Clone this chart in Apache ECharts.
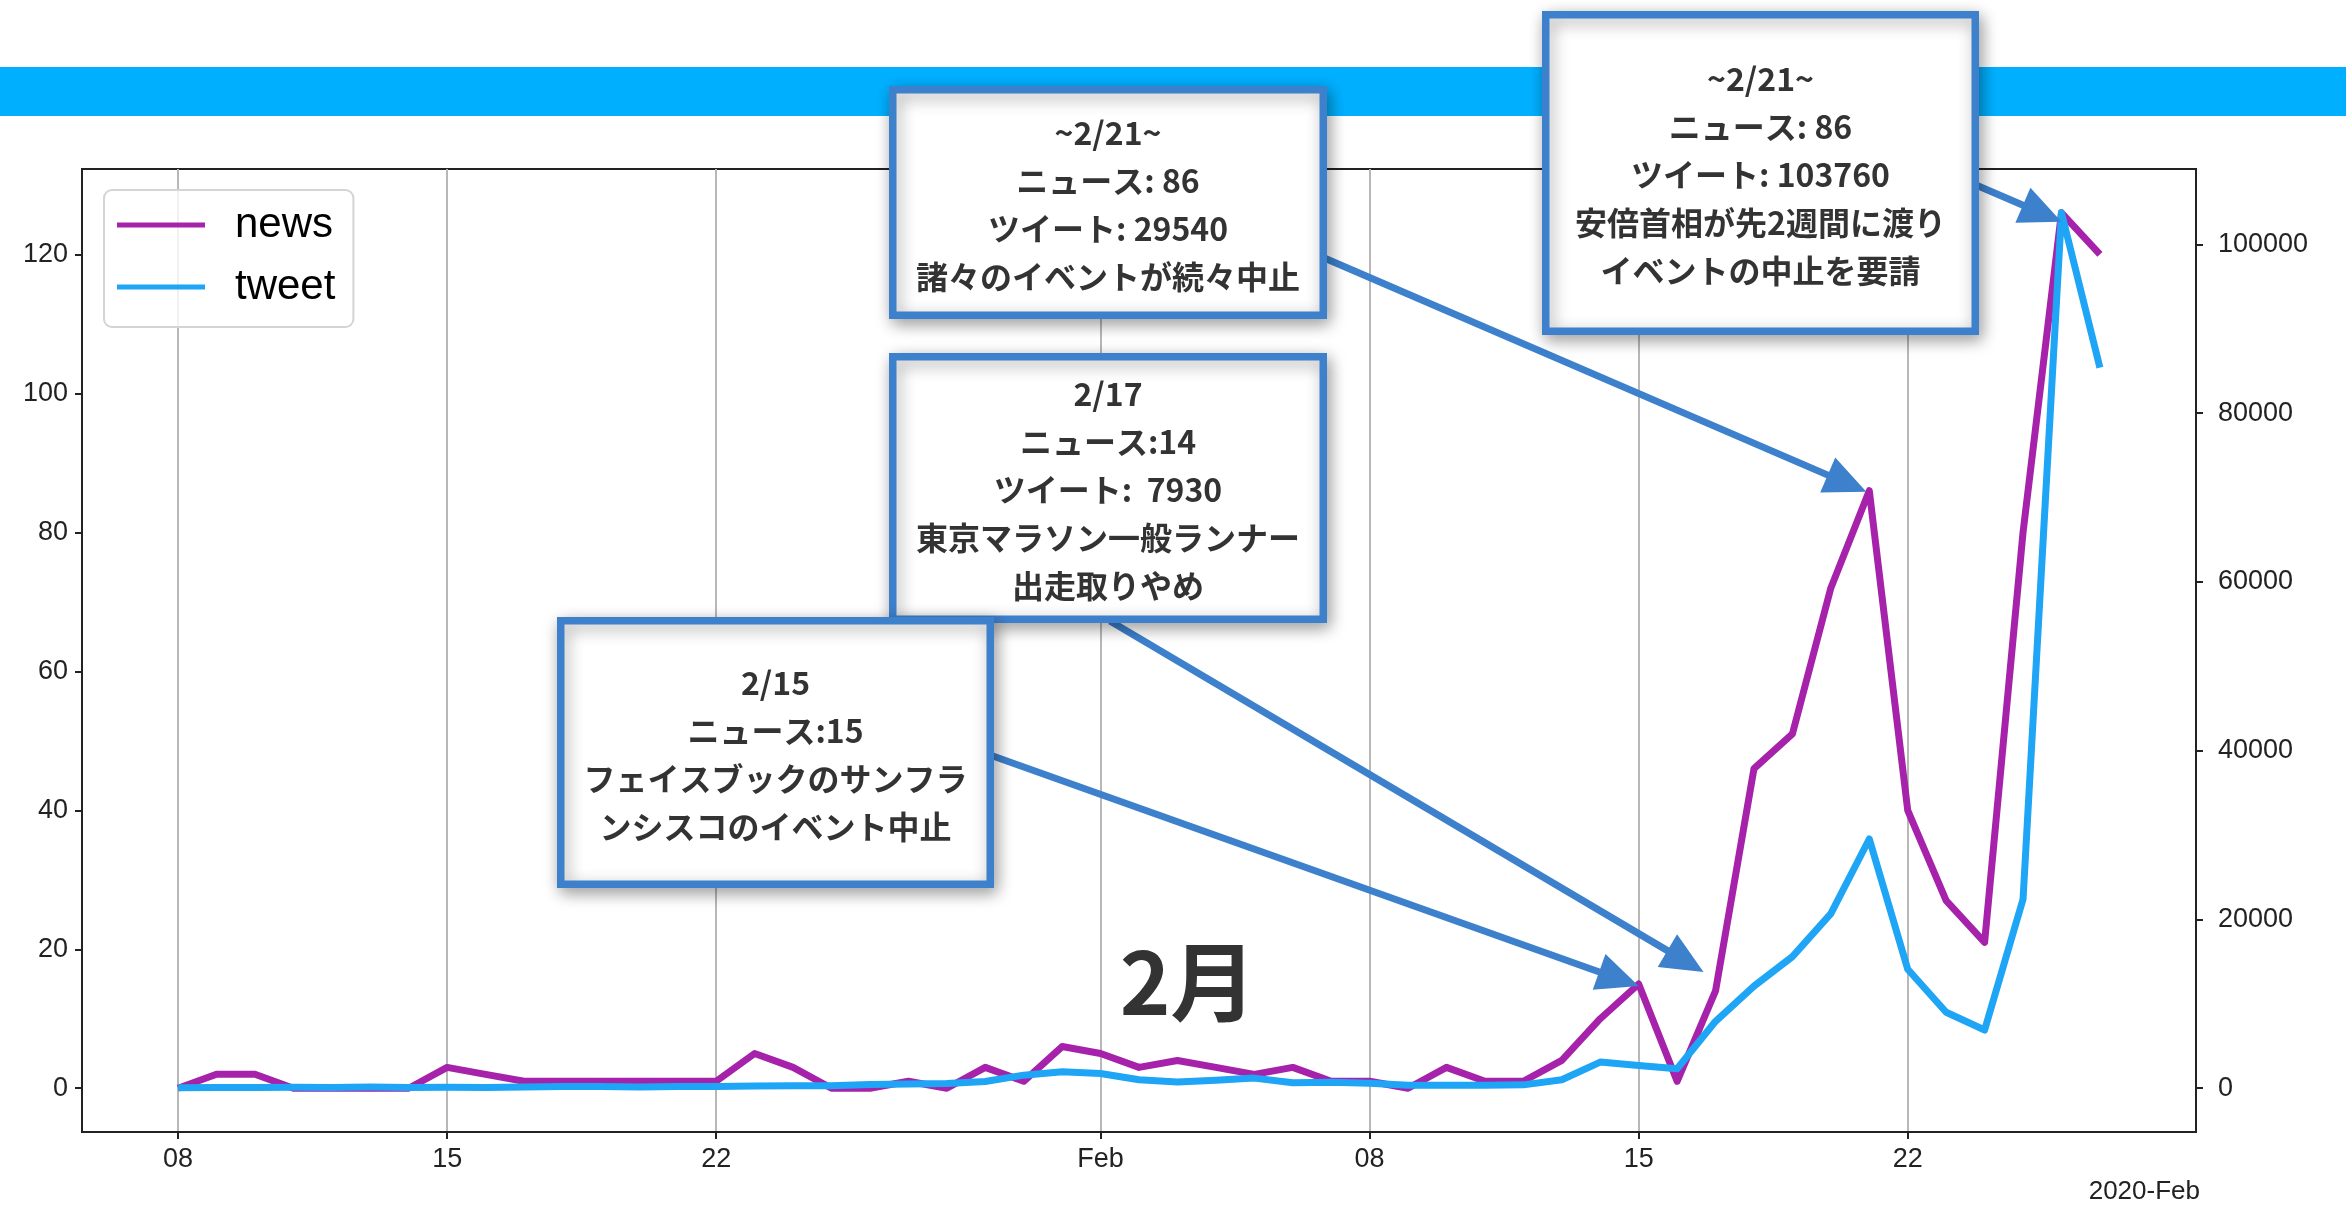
<!DOCTYPE html>
<html><head><meta charset="utf-8">
<script src="https://cdn.jsdelivr.net/npm/echarts@6/dist/echarts.min.js"></script>
<style>html,body{margin:0;padding:0;background:#fff}#c{width:2346px;height:1205px}</style>
</head><body><div id="c"></div>
<script>
// ---------------- data ----------------
const dates = [
  '2020-01-08','2020-01-09','2020-01-10','2020-01-11','2020-01-12','2020-01-13','2020-01-14',
  '2020-01-15','2020-01-16','2020-01-17','2020-01-18','2020-01-19','2020-01-20','2020-01-21',
  '2020-01-22','2020-01-23','2020-01-24','2020-01-25','2020-01-26','2020-01-27','2020-01-28',
  '2020-01-29','2020-01-30','2020-01-31','2020-02-01','2020-02-02','2020-02-03','2020-02-04',
  '2020-02-05','2020-02-06','2020-02-07','2020-02-08','2020-02-09','2020-02-10','2020-02-11',
  '2020-02-12','2020-02-13','2020-02-14','2020-02-15','2020-02-16','2020-02-17','2020-02-18',
  '2020-02-19','2020-02-20','2020-02-21','2020-02-22','2020-02-23','2020-02-24','2020-02-25',
  '2020-02-26','2020-02-27'
];
const news = [
  0,2,2,0,0,0,0,
  3,2,1,1,1,1,1,
  1,5,3,0,0,1,0,
  3,1,6,5,3,4,3,
  2,3,1,1,0,3,1,
  1,4,10,15,1,14,46,
  51,72,86,40,27,21,80,
  126,120
];
const tweet = [
  50,80,100,120,100,150,100,
  120,100,150,200,200,150,200,
  200,250,300,300,450,500,550,
  800,1550,1950,1750,1000,750,950,
  1200,650,700,600,350,350,350,
  400,1000,3100,2700,2300,7930,12100,
  15600,20700,29540,14100,9000,6900,22400,
  103760,85400
];
const xTickDates  = ['2020-01-08','2020-01-15','2020-01-22','2020-02-01','2020-02-08','2020-02-15','2020-02-22'];
const xTickLabels = ['08','15','22','Feb','08','15','22'];
const newsTicks  = [0,20,40,60,80,100,120];
const tweetTicks = [0,20000,40000,60000,80000,100000];
const seriesNames = ['news','tweet'];

// annotation texts and the data points they point at
const noteTexts = [
  ['~2/21~','ニュース: 86','ツイート: 29540','諸々のイベントが続々中止'],
  ['~2/21~','ニュース: 86','ツイート: 103760','安倍首相が先2週間に渡り','イベントの中止を要請'],
  ['2/17','ニュース:14','ツイート:  7930','東京マラソン一般ランナー','出走取りやめ'],
  ['2/15','ニュース:15','フェイスブックのサンフラ','ンシスコのイベント中止']
];
const noteTargets = [
  {date:'2020-02-21', axis:0, value:86},
  {date:'2020-02-26', axis:1, value:103760},
  {date:'2020-02-17', axis:0, value:14},
  {date:'2020-02-15', axis:0, value:15}
];

// ---------------- layout (pixels) ----------------
const boxes = [ // outer rect x0,y0,x1,y1
  [889, 86, 1327, 319],
  [1542, 11, 1979, 335],
  [889, 353, 1327, 623],
  [557, 617, 994, 888]
];
const arrowStarts = [[1322,257],[1976,185],[1110,621],[990,755]];
const arrowTipOffsets = [[-3,1],[0,9],[-12,-19],[0,2]];

const DAY = 86400000;
function dayIndex(s){ const p=s.split('-').map(Number); return (Date.UTC(p[0],p[1]-1,p[2])-Date.UTC(2020,0,8))/DAY; }

const tickX = xTickDates.map(dayIndex);
const labelMap = {}; tickX.forEach((v,i)=>labelMap[v]=xTickLabels[i]);

const newsData  = dates.map((d,i)=>[dayIndex(d), news[i]]);
const tweetData = dates.map((d,i)=>[dayIndex(d), tweet[i]]);

const newsMax = Math.max(...news), tweetMax = Math.max(...tweet);
const xMin = dayIndex(dates[0]), xMax = dayIndex(dates[dates.length-1]);
const xPad = (xMax-xMin)*0.05;

const TICKFONT = {fontFamily:'Liberation Sans', fontSize:27, color:'#222'};
const AXCOL = '#222';
const BLUE = '#3d80cc';

const chart = echarts.init(document.getElementById('c'), null, {renderer:'canvas'});
const option = {
  animation:false,
  backgroundColor:'#fff',
  grid:{left:82, right:150, top:169, bottom:73, show:true, borderColor:AXCOL, borderWidth:2, backgroundColor:'transparent'},
  legend:{
    show:true, orient:'vertical', left:104, top:190,
    padding:[13,18,18,13], itemGap:18,
    backgroundColor:'rgba(255,255,255,0.8)', borderColor:'#d4d4d4', borderWidth:2, borderRadius:8,
    icon:'rect', itemWidth:88, itemHeight:5,
    textStyle:{fontFamily:'Liberation Sans', fontSize:42, lineHeight:44, color:'#000', padding:[0,0,0,25]},
    data: seriesNames
  },
  xAxis:{
    type:'value', min:xMin-xPad, max:xMax+xPad,
    axisLine:{show:true, onZero:false, lineStyle:{color:AXCOL, width:2}},
    axisTick:{show:true, length:7, lineStyle:{color:AXCOL, width:2}, customValues:tickX},
    axisLabel:{show:true, margin:14, ...TICKFONT, customValues:tickX, formatter:v=>labelMap[v]!==undefined?labelMap[v]:''},
    splitLine:{show:true, lineStyle:{color:'#b8b8b8', width:2}}
  },
  yAxis:[
    {type:'value', position:'left', min:-newsMax*0.05, max:newsMax*1.05,
     axisLine:{show:true, onZero:false, lineStyle:{color:AXCOL, width:2}},
     axisTick:{show:true, length:7, lineStyle:{color:AXCOL, width:2}, customValues:newsTicks},
     axisLabel:{show:true, margin:14, ...TICKFONT, customValues:newsTicks, formatter:v=>String(v)},
     splitLine:{show:false}},
    {type:'value', position:'right', min:-tweetMax*0.05, max:tweetMax*1.05,
     axisLine:{show:true, onZero:false, lineStyle:{color:AXCOL, width:2}},
     axisTick:{show:true, length:7, lineStyle:{color:AXCOL, width:2}, customValues:tweetTicks},
     axisLabel:{show:true, margin:22, ...TICKFONT, customValues:tweetTicks, formatter:v=>String(v)},
     splitLine:{show:false}}
  ],
  series:[
    {name:seriesNames[0], type:'line', yAxisIndex:0, data:newsData, showSymbol:false, symbol:'none',
     itemStyle:{color:'#a622aa'}, lineStyle:{color:'#a622aa', width:7, join:'round'}, z:2},
    {name:seriesNames[1], type:'line', yAxisIndex:1, data:tweetData, showSymbol:false, symbol:'none',
     itemStyle:{color:'#1ea5f5'}, lineStyle:{color:'#1ea5f5', width:7, join:'round'}, z:3}
  ]
};
chart.setOption(option);

// ---------------- annotations ----------------
function arrowEls(x1,y1,x2,y2){
  const dx=x2-x1, dy=y2-y1, L=Math.hypot(dx,dy), ux=dx/L, uy=dy/L;
  const hl=42, hw=19;
  const bx=x2-ux*hl, by=y2-uy*hl;
  return [
    {type:'line', z:100, shape:{x1:x1,y1:y1,x2:bx+ux*4,y2:by+uy*4}, style:{stroke:BLUE, lineWidth:7}},
    {type:'polygon', z:100, shape:{points:[[x2,y2],[bx-uy*hw,by+ux*hw],[bx+uy*hw,by-ux*hw]]}, style:{fill:BLUE}}
  ];
}
const els = [];
els.push({type:'rect', z:0, shape:{x:0,y:67,width:2346,height:49}, style:{fill:'#00b0ff'}});
els.push({type:'text', z:50, style:{text:'2月', x:1188, y:982, align:'center', verticalAlign:'middle',
  font:'bold 86px "Noto Sans CJK JP", sans-serif', fill:'#333'}});
els.push({type:'text', z:50, style:{text:'2020-Feb', x:2200, y:1192, align:'right', verticalAlign:'middle',
  font:'26px "Liberation Sans", sans-serif', fill:'#222'}});
noteTargets.forEach((t,i)=>{
  const p = chart.convertToPixel({xAxisIndex:0, yAxisIndex:t.axis}, [dayIndex(t.date), t.value]);
  const s = arrowStarts[i], o = arrowTipOffsets[i];
  arrowEls(s[0], s[1], p[0]+o[0], p[1]+o[1]).forEach(e=>els.push(e));
});
boxes.forEach((b,i)=>{
  const w=7.5;
  els.push({type:'rect', z:110, shape:{x:b[0]+w/2, y:b[1]+w/2, width:b[2]-b[0]-w, height:b[3]-b[1]-w},
    style:{fill:'#fff', stroke:BLUE, lineWidth:w, shadowBlur:16, shadowColor:'rgba(0,0,0,0.35)', shadowOffsetX:3, shadowOffsetY:5}});
  els.push({type:'text', z:120, style:{text:noteTexts[i].join('\n'), x:(b[0]+b[2])/2, y:(b[1]+b[3])/2+2,
    align:'center', verticalAlign:'middle', lineHeight:48,
    font:'bold 32px "Noto Sans CJK JP", sans-serif', fill:'#333'}});
});
chart.setOption({graphic:{elements:els}});
</script></body></html>
